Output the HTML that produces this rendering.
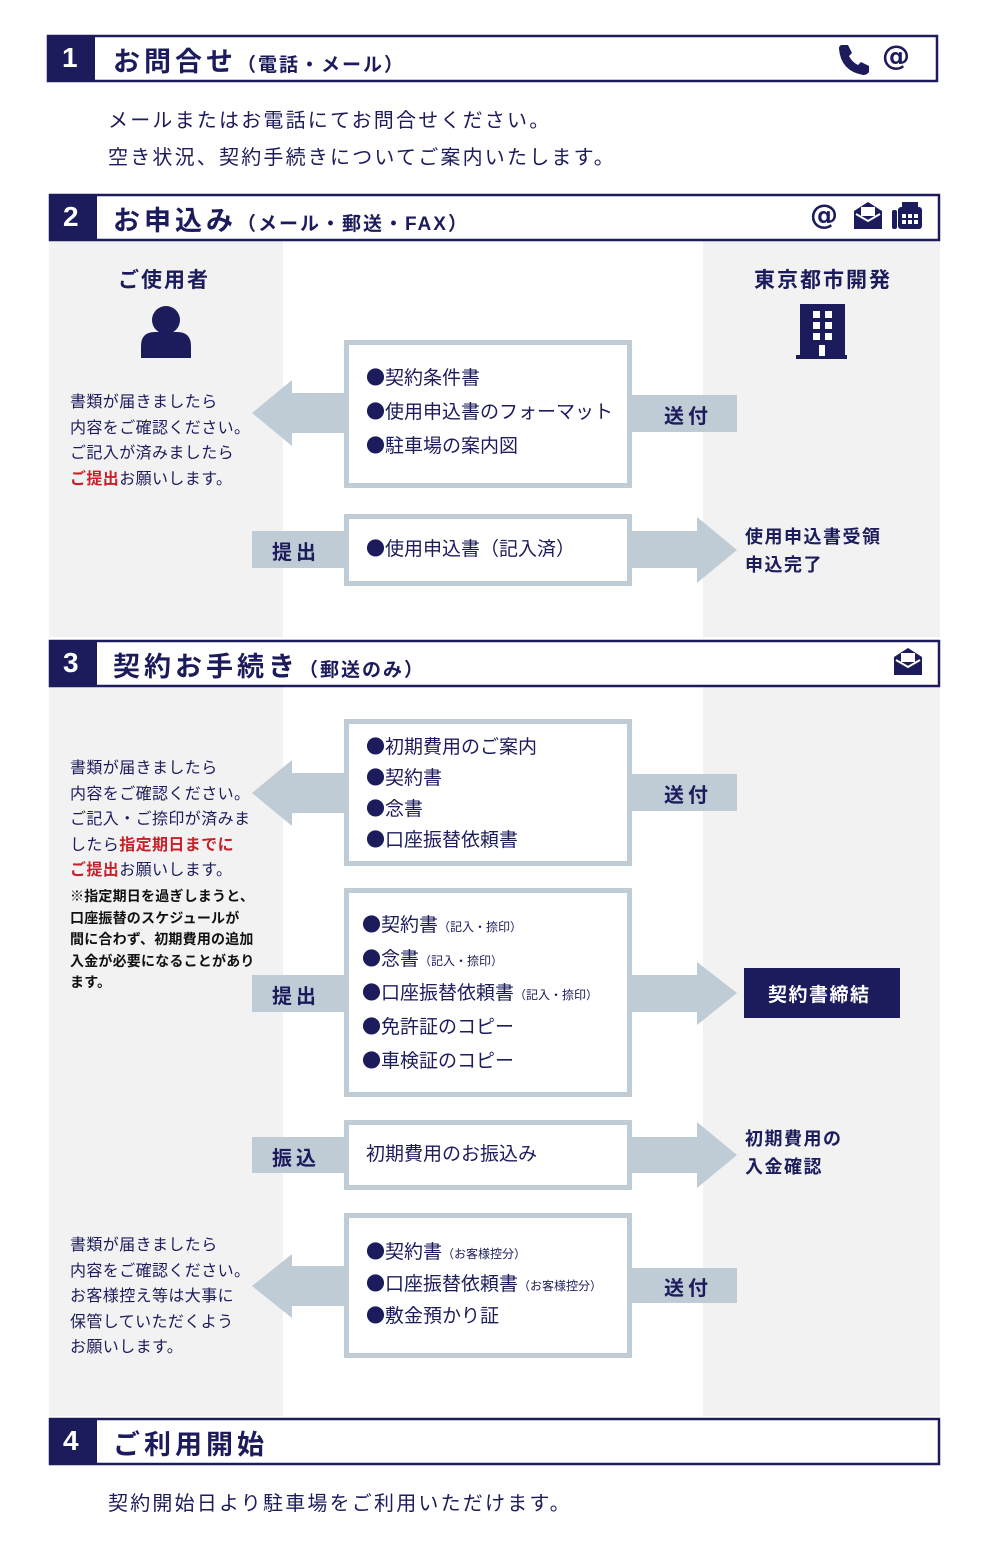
<!DOCTYPE html>
<html><head><meta charset="utf-8"><style>
body{margin:0;width:990px;height:1554px;position:relative;background:#fff;font-family:"Liberation Sans","Noto Sans CJK JP",sans-serif;color:#1c1c5c;overflow:hidden}
.t{position:absolute;white-space:nowrap}
.h{font-size:27px;font-weight:bold;letter-spacing:4px}
.h small{font-size:19px;letter-spacing:2px}
.n{color:#fff;font-size:28px;font-weight:bold}
.body{font-size:20px;color:#1c1c5c;letter-spacing:2.2px}
.lt{font-size:16px;line-height:25.5px;color:#1c1c5c;white-space:normal;letter-spacing:0.4px}
.red{color:#c8202a;font-weight:bold}
.item{font-size:19px;line-height:34px;color:#1c1c5c;letter-spacing:0}
.item small{font-size:12px;letter-spacing:0;line-height:0}
.b{font-family:"Noto Sans CJK JP",sans-serif;line-height:0}
.lab{font-size:20px;font-weight:bold;letter-spacing:4px}
.rt{font-size:18px;font-weight:bold;line-height:28px;letter-spacing:1.5px}
.ic{font-family:"DejaVu Sans",sans-serif;font-weight:bold;font-size:28px}
</style></head><body>
<svg width="990" height="1554" style="position:absolute;left:0;top:0">
<g fill="#f2f2f2">
<rect x="49" y="240" width="234" height="397"/><rect x="703" y="240" width="237" height="397"/>
<rect x="49" y="686" width="234" height="730"/><rect x="703" y="686" width="237" height="730"/>
</g>
<g fill="#fff" stroke="#1c1c5c" stroke-width="2.5">
<rect x="48" y="36" width="889" height="45"/><rect x="50" y="195" width="889" height="45"/>
<rect x="50" y="641" width="889" height="45"/><rect x="50" y="1419" width="889" height="45"/>
</g>
<g fill="#1c1c5c">
<rect x="47" y="35" width="48" height="47"/><rect x="49" y="194" width="48" height="47"/>
<rect x="49" y="640" width="48" height="47"/><rect x="49" y="1418" width="48" height="47"/>
</g>
<g fill="#bfccd6">
<polygon points="252,413 292,380 292,393 344,393 344,433 292,433 292,446"/>
<rect x="632" y="395" width="105" height="37"/>
<rect x="252" y="531" width="92" height="37"/>
<polygon points="632,531 697,531 697,517 737,550 697,583 697,568 632,568"/>
<polygon points="252,793 292,760 292,773 344,773 344,813 292,813 292,826"/>
<rect x="632" y="774" width="105" height="37"/>
<rect x="252" y="975" width="92" height="37"/>
<polygon points="632,975 697,975 697,962 737,993 697,1025 697,1012 632,1012"/>
<rect x="252" y="1137" width="92" height="36"/>
<polygon points="632,1137 697,1137 697,1122 737,1155 697,1188 697,1173 632,1173"/>
<polygon points="252,1286 292,1254 292,1266 344,1266 344,1306 292,1306 292,1318"/>
<rect x="632" y="1268" width="105" height="35"/>
</g>
<g fill="#fff" stroke="#bfccd6" stroke-width="5">
<rect x="346.5" y="342.5" width="283" height="143"/>
<rect x="346.5" y="516.5" width="283" height="67"/>
<rect x="346.5" y="721.5" width="283" height="142"/>
<rect x="346.5" y="890.5" width="283" height="204"/>
<rect x="346.5" y="1122.5" width="283" height="65"/>
<rect x="346.5" y="1215.5" width="283" height="140"/>
</g>
<rect x="744" y="968" width="156" height="50" fill="#1c1c5c"/>
<g fill="#1c1c5c">
<circle cx="166" cy="320" r="14"/><path d="M141 358 v-12 q0-14 14-14 h22 q14 0 14 14 v12z"/>
<rect x="800" y="304" width="45" height="52"/><rect x="796" y="355" width="51" height="4"/>
<path d="M842 45 l6 0 l4 8 l-3 3 q3 6 9 9 l3-3 l8 4 l0 6 q-2 3 -6 3 q-22-4-24-26 q0-4 3-4z"/>
<path d="M854 211 l14 -9 l14 9 v18 h-28z"/>
<rect x="898" y="207" width="24" height="22" rx="3"/><rect x="892" y="210" width="5" height="19" rx="2"/><rect x="902" y="202" width="16" height="6"/>
<path d="M894 657 l14 -9 l14 9 v18 h-28z"/>
</g>
<g fill="#fff">
<rect x="813" y="311" width="7" height="7"/><rect x="825" y="311" width="7" height="7"/>
<rect x="813" y="322" width="7" height="7"/><rect x="825" y="322" width="7" height="7"/>
<rect x="813" y="333" width="7" height="7"/><rect x="825" y="333" width="7" height="7"/>
<rect x="819" y="345" width="6" height="11"/>
<rect x="861" y="207" width="14" height="9"/><path d="M856 214 l12 7 l12 -7" stroke="#fff" stroke-width="2" fill="none"/>
<rect x="902" y="214" width="4" height="4"/><rect x="908" y="214" width="4" height="4"/><rect x="914" y="214" width="4" height="4"/>
<rect x="902" y="220" width="4" height="4"/><rect x="908" y="220" width="4" height="4"/><rect x="914" y="220" width="4" height="4"/>
<rect x="901" y="653" width="14" height="9"/><path d="M896 660 l12 7 l12 -7" stroke="#fff" stroke-width="2" fill="none"/>
</g>
</svg>
<div class="t n" style="left:62px;top:42px">1</div>
<div class="t h" style="left:113px;top:40px">お問合せ<small>（電話・メール）</small></div>
<div class="t ic" style="left:882px;top:39px">@</div>
<div class="t body" style="left:108px;top:104px">メールまたはお電話にてお問合せください。</div>
<div class="t body" style="left:108px;top:141px">空き状況、契約手続きについてご案内いたします。</div>

<div class="t n" style="left:63px;top:201px">2</div>
<div class="t h" style="left:113px;top:199px">お申込み<small>（メール・郵送・FAX）</small></div>
<div class="t ic" style="left:810px;top:198px">@</div>
<div class="t" style="left:118px;top:264px;font-size:21px;font-weight:bold;letter-spacing:2px">ご使用者</div>
<div class="t" style="left:754px;top:264px;font-size:21px;font-weight:bold;letter-spacing:2px">東京都市開発</div>
<div class="t lt" style="left:70px;top:390px;width:200px">書類が届きましたら<br>内容をご確認ください。<br>ご記入が済みましたら<br><span class="red">ご提出</span>お願いします。</div>
<div class="t item" style="left:366px;top:362px"><span class="b">●</span>契約条件書<br><span class="b">●</span>使用申込書のフォーマット<br><span class="b">●</span>駐車場の案内図</div>
<div class="t lab" style="left:664px;top:400px">送付</div>
<div class="t lab" style="left:272px;top:536px">提出</div>
<div class="t item" style="left:366px;top:533px"><span class="b">●</span>使用申込書（記入済）</div>
<div class="t rt" style="left:745px;top:523px">使用申込書受領<br>申込完了</div>

<div class="t n" style="left:63px;top:647px">3</div>
<div class="t h" style="left:113px;top:645px">契約お手続き<small>（郵送のみ）</small></div>
<div class="t lt" style="left:70px;top:756px;width:200px">書類が届きましたら<br>内容をご確認ください。<br>ご記入・ご捺印が済みま<br>したら<span class="red">指定期日までに<br>ご提出</span>お願いします。</div>
<div class="t" style="left:70px;top:886px;font-size:14px;line-height:21.5px;color:#111;font-weight:bold;white-space:normal;width:200px;letter-spacing:0.2px">※指定期日を過ぎしまうと、<br>口座振替のスケジュールが<br>間に合わず、初期費用の追加<br>入金が必要になることがあり<br>ます。</div>
<div class="t item" style="left:366px;top:732px;line-height:31px"><span class="b">●</span>初期費用のご案内<br><span class="b">●</span>契約書<br><span class="b">●</span>念書<br><span class="b">●</span>口座振替依頼書</div>
<div class="t lab" style="left:664px;top:779px">送付</div>
<div class="t item" style="left:362px;top:909px"><span class="b">●</span>契約書<small>（記入・捺印）</small><br><span class="b">●</span>念書<small>（記入・捺印）</small><br><span class="b">●</span>口座振替依頼書<small>（記入・捺印）</small><br><span class="b">●</span>免許証のコピー<br><span class="b">●</span>車検証のコピー</div>
<div class="t lab" style="left:272px;top:980px">提出</div>
<div class="t" style="left:768px;top:980px;font-size:19px;font-weight:bold;color:#fff;letter-spacing:1.5px">契約書締結</div>
<div class="t lab" style="left:272px;top:1142px">振込</div>
<div class="t item" style="left:366px;top:1138px">初期費用のお振込み</div>
<div class="t rt" style="left:745px;top:1125px">初期費用の<br>入金確認</div>
<div class="t lt" style="left:70px;top:1233px;width:200px">書類が届きましたら<br>内容をご確認ください。<br>お客様控え等は大事に<br>保管していただくよう<br>お願いします。</div>
<div class="t item" style="left:366px;top:1237px;line-height:32px"><span class="b">●</span>契約書<small>（お客様控分）</small><br><span class="b">●</span>口座振替依頼書<small>（お客様控分）</small><br><span class="b">●</span>敷金預かり証</div>
<div class="t lab" style="left:664px;top:1272px">送付</div>

<div class="t n" style="left:63px;top:1425px">4</div>
<div class="t h" style="left:113px;top:1423px">ご利用開始</div>
<div class="t body" style="left:108px;top:1487px">契約開始日より駐車場をご利用いただけます。</div>
</body></html>
